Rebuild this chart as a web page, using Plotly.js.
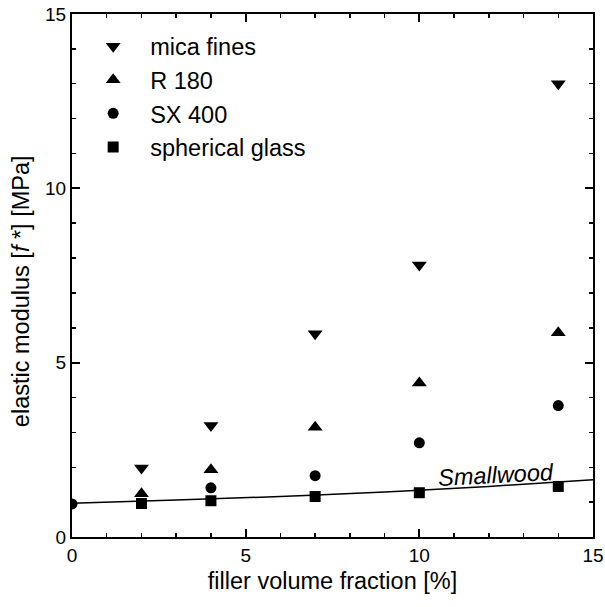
<!DOCTYPE html>
<html>
<head>
<meta charset="utf-8">
<script src="https://cdn.plot.ly/plotly-3.0.1.min.js"></script>
<style>html,body{margin:0;padding:0;background:#fff;}#chart{width:605px;height:607px;}</style>
</head>
<body>
<div id="chart"></div>
<script>
// Data
const micaX = [2, 4, 7, 10, 14];
const micaY = [1.98, 3.2, 5.83, 7.8, 13.0];
const r180X = [2, 4, 7, 10, 14];
const r180Y = [1.24, 1.93, 3.15, 4.42, 5.86];
const sx400X = [0, 4, 7, 10, 14];
const sx400Y = [0.95, 1.41, 1.76, 2.7, 3.77];
const glassX = [2, 4, 7, 10, 14];
const glassY = [0.96, 1.04, 1.16, 1.27, 1.45];
const smallwoodX = [0, 3, 6, 9, 12, 15];
const smallwoodY = [0.97, 1.06, 1.16, 1.29, 1.45, 1.64];
const seriesNames = ['mica fines', 'R 180', 'SX 400', 'spherical glass'];
const xTitle = 'filler volume fraction [%]';
const yTitle = 'elastic modulus [<i>f</i> *] [MPa]';
const curveLabel = 'Smallwood';

const font = 'Liberation Sans, Arial, sans-serif';
const mk = (sym, size) => ({symbol: sym, size: size, color: '#000', line: {width: 0}});

const traces = [
  {x: smallwoodX, y: smallwoodY, mode: 'lines', line: {color: '#000', width: 1.5, shape: 'spline'}, showlegend: false, hoverinfo: 'skip'},
  {x: micaX, y: micaY, mode: 'markers', name: seriesNames[0], marker: mk('triangle-down', 13), legendgroup: 'a'},
  {x: r180X, y: r180Y, mode: 'markers', name: seriesNames[1], marker: mk('triangle-up', 13), legendgroup: 'b'},
  {x: sx400X, y: sx400Y, mode: 'markers', name: seriesNames[2], marker: mk('circle', 11), legendgroup: 'c'},
  {x: glassX, y: glassY, mode: 'markers', name: seriesNames[3], marker: mk('square', 11), legendgroup: 'd'}
];

const axisCommon = {
  showgrid: false, zeroline: false, showline: true, linecolor: '#000', linewidth: 2,
  mirror: 'allticks', ticks: 'inside', ticklen: 8, tickwidth: 2, tickcolor: '#000',
  tickfont: {family: font, size: 19, color: '#000'},
  minor: {dtick: 1, ticks: 'inside', ticklen: 4, tickwidth: 1.5, tickcolor: '#000'}
};

const layout = {
  width: 605, height: 607,
  margin: {l: 72, r: 12, t: 14, b: 70},
  paper_bgcolor: '#fff', plot_bgcolor: '#fff',
  font: {family: font, color: '#000'},
  xaxis: Object.assign({}, axisCommon, {range: [0, 15], dtick: 5, tick0: 0,
    title: {text: xTitle, font: {family: font, size: 23.5, color: '#000'}, standoff: 8}}),
  yaxis: Object.assign({}, axisCommon, {range: [0, 15], dtick: 5, tick0: 0}),
  showlegend: true,
  legend: {x: 0.008, y: 0.98, xanchor: 'left', yanchor: 'top', bgcolor: 'rgba(0,0,0,0)', borderwidth: 0,
    font: {family: font, size: 23.5, color: '#000'}, tracegroupgap: 0, itemwidth: 64, traceorder: 'grouped'},
  annotations: [
    {x: 12.2, y: 1.77, xref: 'x', yref: 'y', text: '<i>' + curveLabel + '</i>', showarrow: false,
      textangle: -3, font: {family: font, size: 23.5, color: '#000'}},
    {x: -0.098, y: 0.47, xref: 'paper', yref: 'paper', text: yTitle, showarrow: false,
      textangle: -90, xanchor: 'center', yanchor: 'middle', font: {family: font, size: 23.5, color: '#000'}}
  ]
};

Plotly.newPlot('chart', traces, layout, {displayModeBar: false, staticPlot: true});
</script>
</body>
</html>
